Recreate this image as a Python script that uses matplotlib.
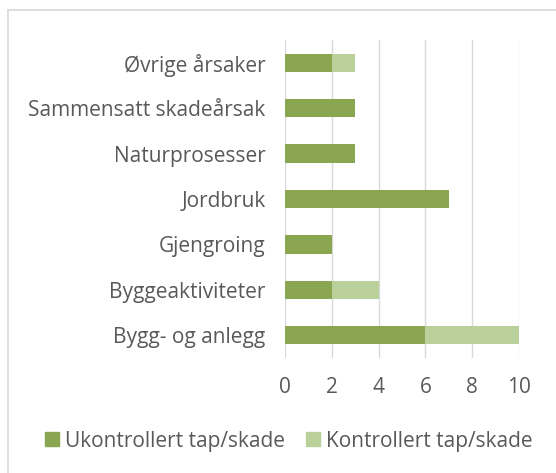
import matplotlib
matplotlib.use("Agg")
import matplotlib.pyplot as plt
from matplotlib.lines import Line2D
from matplotlib.patches import Patch

categories = ["Bygg- og anlegg", "Byggeaktiviteter", "Gjengroing", "Jordbruk",
              "Naturprosesser", "Sammensatt skadeårsak", "Øvrige årsaker"]
ukontrollert = [6, 2, 2, 7, 3, 3, 2]
kontrollert = [4, 2, 0, 0, 0, 0, 1]
series_names = ["Ukontrollert tap/skade", "Kontrollert tap/skade"]
xticks = [0, 2, 4, 6, 8, 10]

c_dark = "#8BA651"
c_light = "#B9D09A"
text_c = "#595959"

plt.rcParams['font.family'] = ['Open Sans', 'DejaVu Sans']
FS = 15

fig = plt.figure(figsize=(5.56, 4.73), dpi=100)
W, H = 556, 473
ax = fig.add_axes([285 / W, 1 - 358 / H, (519 - 285) / W, (358 - 40) / H])

y = list(range(len(categories)))
ax.barh(y, ukontrollert, height=0.4, color=c_dark, label=series_names[0], zorder=3)
ax.barh(y, kontrollert, left=ukontrollert, height=0.4, color=c_light, label=series_names[1], zorder=3)

ax.set_xlim(0, 10)
ax.set_ylim(-0.5, len(categories) - 0.5)
ax.set_xticks(xticks)
ax.set_yticks(y)
ax.set_yticklabels(categories)
ax.tick_params(axis='both', length=0, labelsize=FS, labelcolor=text_c)
ax.tick_params(axis='y', pad=14)
ax.tick_params(axis='x', pad=14)
ax.grid(axis='x', color="#D9D9D9", linewidth=1, zorder=0)
for s in ax.spines.values():
    s.set_visible(False)

handles = [Patch(color=c_dark), Patch(color=c_light)]
fig.legend(handles, series_names, loc='center', bbox_to_anchor=(289 / W, 1 - 441 / H),
           ncol=2, frameon=False, fontsize=FS, labelcolor=text_c,
           handlelength=0.65, handleheight=0.65, handletextpad=0.3, columnspacing=1.0)

# outer chart border (top and left visible)
fig.add_artist(Line2D([7.5 / W, 1], [1 - 10.5 / H, 1 - 10.5 / H], color="#D9D9D9", lw=1.2, transform=fig.transFigure))
fig.add_artist(Line2D([7.5 / W, 7.5 / W], [0, 1 - 10.5 / H], color="#D9D9D9", lw=1.2, transform=fig.transFigure))

fig.savefig("out.png", dpi=100)
